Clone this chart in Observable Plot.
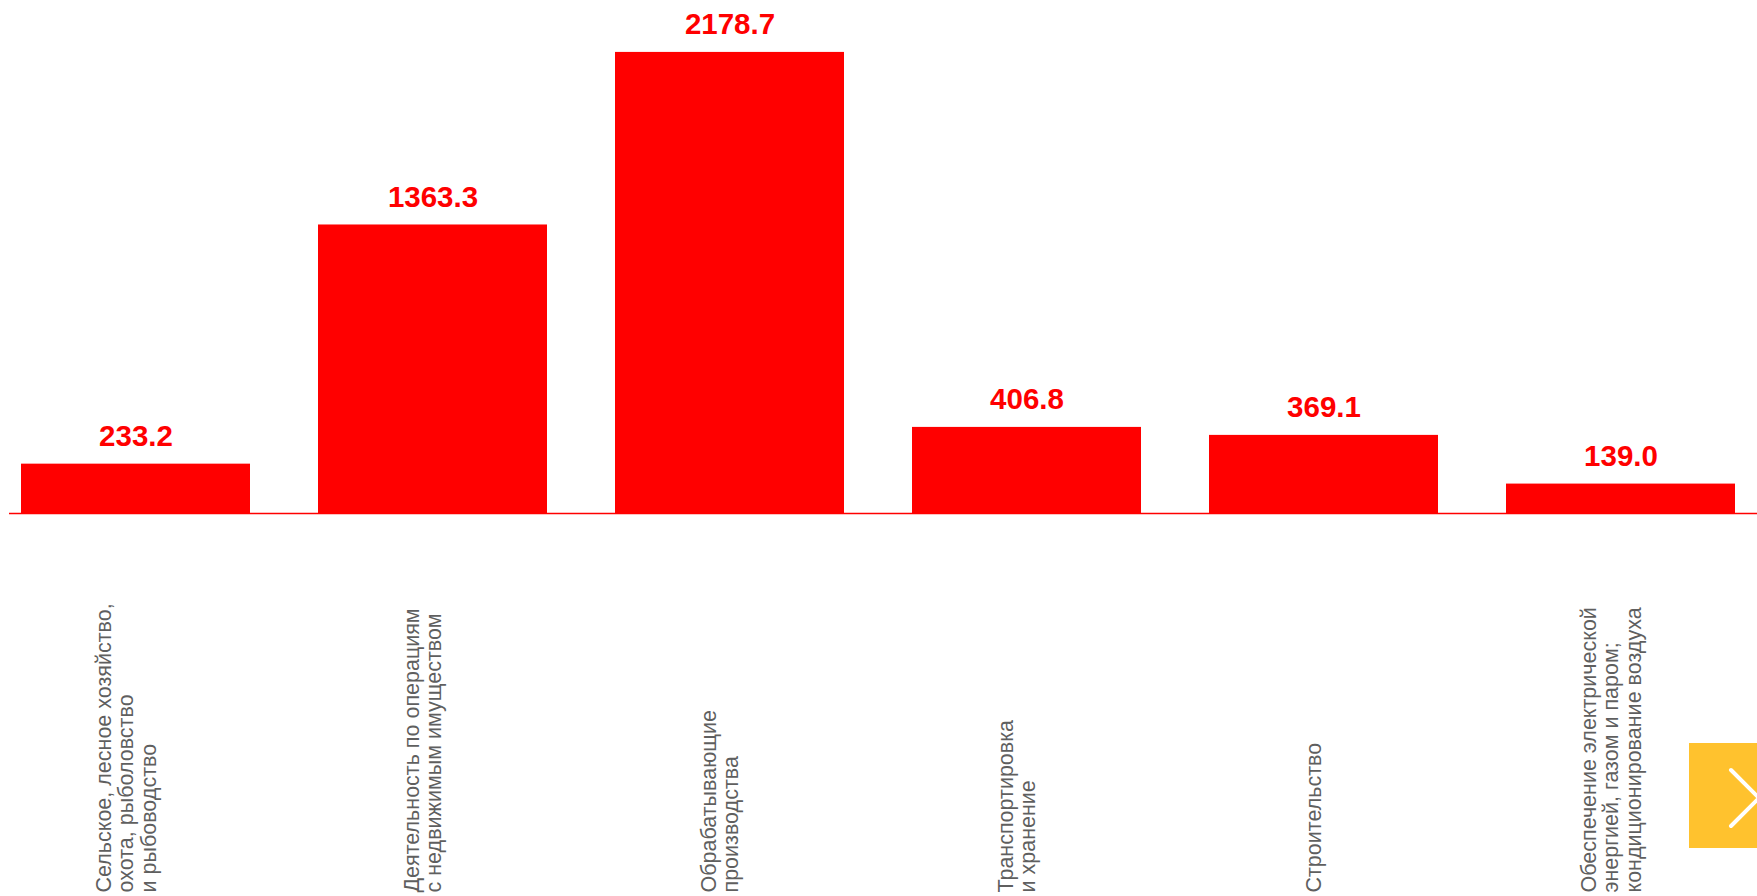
<!DOCTYPE html>
<html>
<head>
<meta charset="utf-8">
<script src="https://cdn.jsdelivr.net/npm/d3@7"></script>
<script src="https://cdn.jsdelivr.net/npm/@observablehq/plot@0.6"></script>
<style>
  html, body { margin: 0; padding: 0; background: #fff; }
  #wrap { position: relative; width: 1757px; height: 896px; overflow: hidden; }
  #next { position: absolute; left: 1689px; top: 743px; width: 68px; height: 105px; background: #FFC22E; }
</style>
</head>
<body>
<div id="wrap">
  <div id="chart"></div>
  <div id="next">
    <svg width="68" height="105"><polyline points="42,27 70,55 42,83" fill="none" stroke="#fff" stroke-width="4" stroke-linecap="round" stroke-linejoin="round"/></svg>
  </div>
</div>
<script>
const categories = [
  "Сельское, лесное хозяйство,\nохота, рыболовство\nи рыбоводство",
  "Деятельность по операциям\nс недвижимым имуществом",
  "Обрабатывающие\nпроизводства",
  "Транспортировка\nи хранение",
  "Строительство",
  "Обеспечение электрической\nэнергией, газом и паром;\nкондиционирование воздуха"
];
const values = [233.2, 1363.3, 2178.7, 406.8, 369.1, 139.0];

const data = categories.map((c, i) => ({category: c, value: values[i]}));
const red = "#FF0000";

const chart = Plot.plot({
  width: 1757,
  height: 896,
  marginTop: 0,
  marginLeft: 20,
  marginRight: 21,
  marginBottom: 383,
  style: {fontFamily: "Liberation Sans, Arial, sans-serif", background: "transparent"},
  x: {domain: categories, paddingInner: 0.23, paddingOuter: 0, axis: null},
  y: {domain: [0, 2424], axis: null},
  marks: [
    Plot.barY(data, {x: "category", y: "value", fill: red}),
    Plot.ruleY([0], {stroke: red, strokeWidth: 1.5, insetLeft: -11, insetRight: -21}),
    Plot.text(data, {
      x: "category", y: "value", text: d => d.value.toFixed(1),
      dy: -18, lineAnchor: "bottom", fill: red, fontWeight: "bold", fontSize: 29.5
    }),
    Plot.text(data, {
      x: "category", frameAnchor: "bottom", text: "category",
      dy: 379, dx: -10, rotate: -90, textAnchor: "start", lineAnchor: "middle",
      lineHeight: 1.04, fontSize: 21.5, fill: "#5f5f5f"
    })
  ]
});
document.getElementById("chart").appendChild(chart);
</script>
</body>
</html>
